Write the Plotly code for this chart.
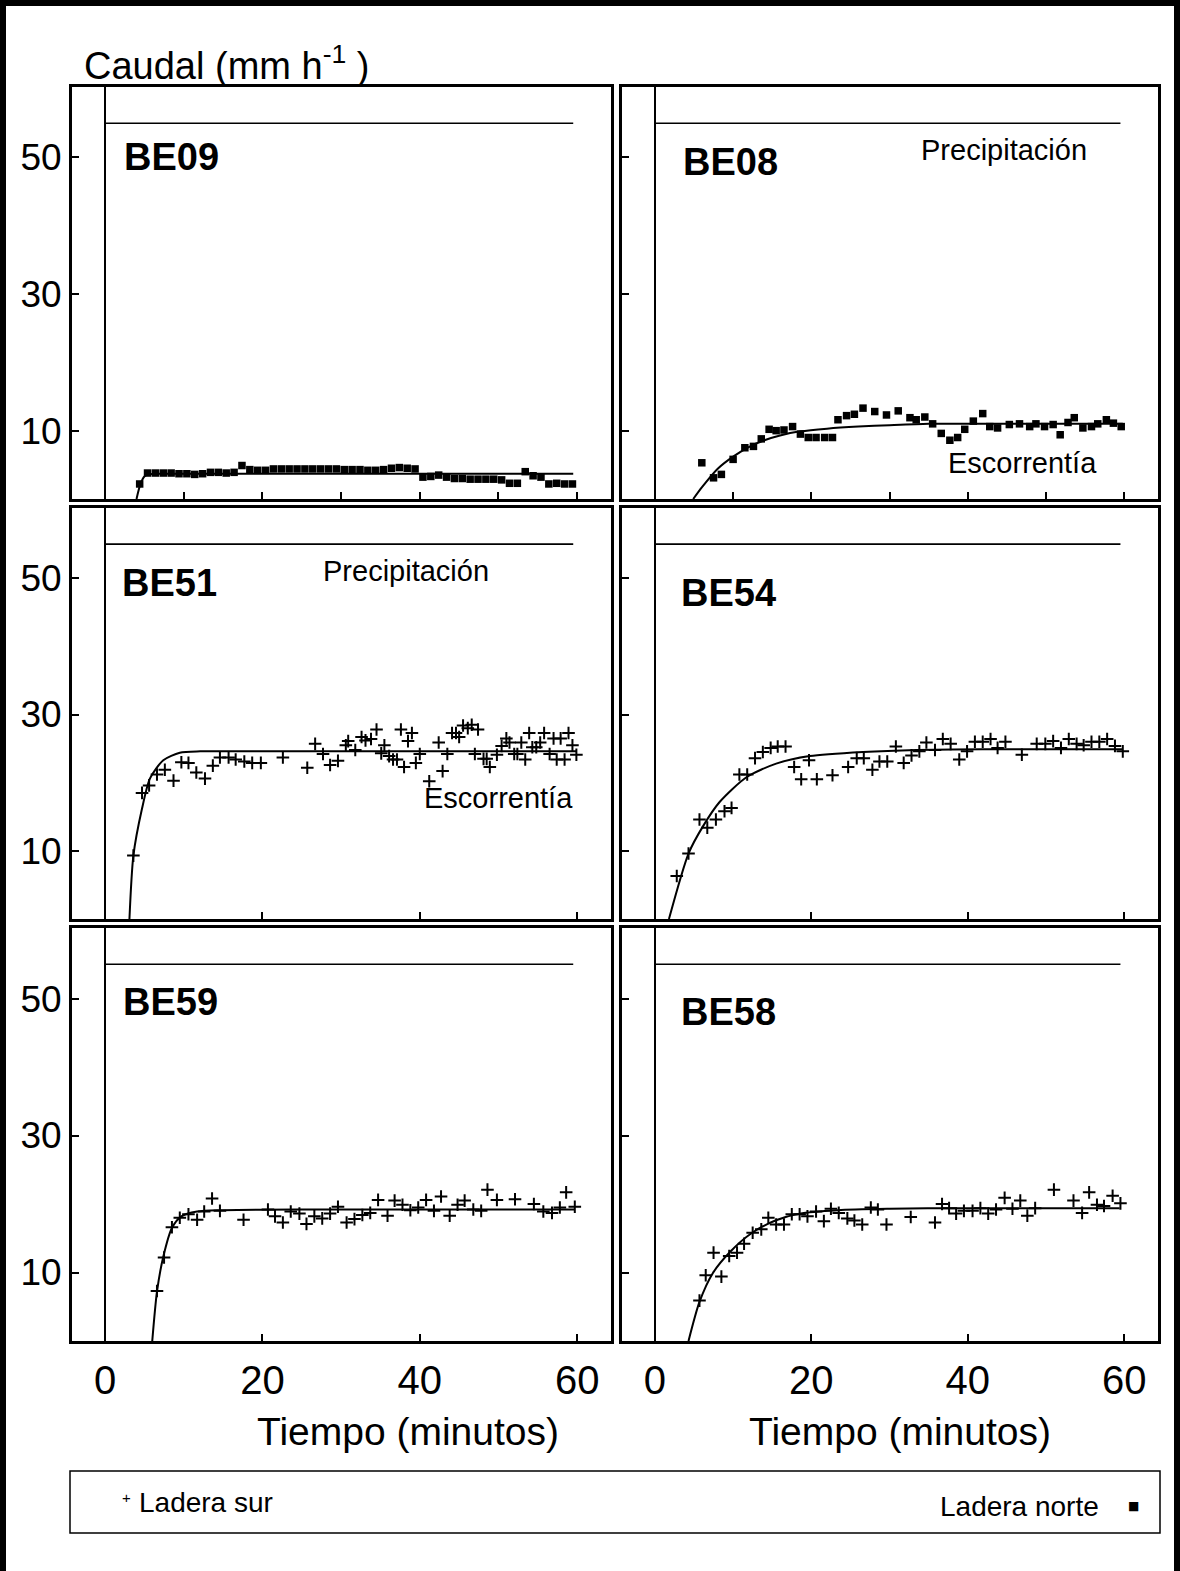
import plotly.graph_objects as go

# ---------------- data ----------------
rain_t = [0, 59.5]
rain_q = [55, 55]

be09_t = [4.4, 5.4, 6.4, 7.4, 8.4, 9.4, 10.4, 11.4, 12.4, 13.4, 14.4, 15.4, 16.4, 17.4, 18.4, 19.4,
          20.4, 21.4, 22.4, 23.4, 24.4, 25.4, 26.4, 27.4, 28.4, 29.4, 30.4, 31.4, 32.4, 33.4, 34.4,
          35.4, 36.4, 37.4, 38.4, 39.4, 40.4, 41.4, 42.4, 43.4, 44.4, 45.4, 46.4, 47.4, 48.4, 49.4,
          50.4, 51.4, 52.4, 53.4, 54.4, 55.4, 56.4, 57.4, 58.4, 59.4]
be09_q = [2.2, 3.8, 3.8, 3.8, 3.8, 3.7, 3.7, 3.6, 3.7, 3.9, 3.9, 3.8, 3.9, 4.9, 4.3, 4.2,
          4.2, 4.4, 4.4, 4.4, 4.4, 4.4, 4.4, 4.4, 4.4, 4.4, 4.3, 4.3, 4.3, 4.2, 4.2,
          4.3, 4.5, 4.6, 4.5, 4.4, 3.2, 3.3, 3.5, 3.2, 3.0, 3.0, 2.9, 2.9, 2.9, 2.9,
          2.8, 2.3, 2.3, 4.0, 3.4, 3.2, 2.2, 2.3, 2.2, 2.2]
be09_fit_t = [4.0, 4.5, 5.0, 5.6, 7.0, 59.5]
be09_fit_q = [0.0, 2.2, 3.3, 3.6, 3.7, 3.7]

be08_t = [6.0, 7.5, 8.5, 10.0, 11.5, 12.6, 13.6, 14.6, 15.5, 16.5, 17.6, 18.6, 19.6, 20.6, 21.7,
          22.7, 23.4, 24.5, 25.5, 26.6, 28.1, 29.6, 31.1, 32.6, 33.4, 34.5, 35.5, 36.6, 37.7, 38.7,
          39.6, 40.7, 41.9, 42.8, 43.8, 45.3, 46.6, 47.9, 48.7, 49.8, 50.9, 51.8, 52.8, 53.6, 54.7,
          55.8, 56.6, 57.7, 58.6, 59.6]
be08_q = [5.3, 3.1, 3.6, 5.8, 7.5, 7.7, 8.8, 10.2, 10.0, 10.1, 10.6, 9.5, 9.0, 9.0, 9.0,
          9.0, 11.6, 12.2, 12.4, 13.3, 12.8, 12.3, 12.9, 11.9, 11.6, 12.0, 11.0, 9.6, 8.6, 9.0,
          10.2, 11.4, 12.5, 10.6, 10.4, 10.9, 11.0, 10.6, 11.0, 10.6, 10.9, 9.4, 11.2, 11.9, 10.4,
          10.6, 11.0, 11.6, 11.1, 10.6]
be08_fit_t = [4.9, 6.0, 8.0, 10.0, 12.0, 14.0, 16.0, 18.6, 22.0, 26.0, 30.0, 35.0, 45.0, 59.8]
be08_fit_q = [0.0, 1.7, 4.4, 6.2, 7.6, 8.6, 9.3, 9.9, 10.3, 10.6, 10.8, 11.0, 11.0, 11.0]

be51_t = [3.6, 4.7, 5.6, 6.6, 7.6, 8.7, 9.7, 10.6, 11.6, 12.7, 13.7, 14.6, 15.7, 16.6, 17.7, 18.7,
          19.8, 22.6, 25.7, 26.7, 27.7, 28.6, 29.6, 30.6, 30.9, 31.8, 32.6, 33.1, 33.8, 34.5, 35.1,
          35.5, 36.1, 36.6, 37.1, 37.6, 38.0, 38.5, 39.0, 39.5, 40.0, 41.2, 42.4, 42.9, 43.5, 44.1,
          44.6, 45.0, 45.5, 46.1, 46.6, 47.0, 47.4, 48.1, 48.5, 48.9, 49.8, 50.4, 51.0, 51.4, 52.0,
          52.4, 52.9, 53.4, 53.9, 54.3, 54.8, 55.3, 55.8, 56.5, 57.0, 57.4, 57.9, 58.4, 58.9, 59.4,
          59.9]
be51_q = [9.3, 18.5, 19.6, 21.2, 21.9, 20.3, 23.0, 22.9, 21.5, 20.6, 22.5, 23.7, 23.7, 23.4, 23.1, 22.9,
          22.9, 23.7, 22.2, 25.7, 24.2, 22.6, 23.2, 25.5, 26.1, 24.8, 26.7, 26.2, 26.4, 27.8, 24.3,
          25.5, 23.9, 23.4, 23.4, 27.8, 22.3, 26.1, 27.3, 22.9, 24.2, 20.2, 25.9, 21.7, 24.2, 27.3,
          27.3, 26.7, 28.4, 28.0, 28.5, 24.2, 27.8, 23.5, 23.5, 22.3, 24.1, 25.4, 26.5, 25.9, 24.2,
          24.2, 25.9, 23.4, 27.3, 25.2, 25.2, 25.9, 27.3, 24.2, 26.5, 23.4, 26.5, 23.4, 27.3, 25.5,
          24.1]
be51_fit_t = [3.1, 3.6, 4.7, 5.7, 7.4, 9.5, 12.1, 20.0, 59.9]
be51_fit_q = [0.0, 9.3, 16.2, 20.6, 23.3, 24.4, 24.6, 24.6, 24.6]

be54_t = [2.8, 4.3, 5.7, 6.7, 7.8, 8.9, 9.8, 10.8, 11.8, 12.8, 13.8, 14.8, 15.7, 16.7, 17.8, 18.7,
          19.7, 20.7, 22.7, 24.7, 25.8, 26.7, 27.8, 28.7, 29.7, 30.8, 31.8, 32.8, 33.8, 34.7, 35.8,
          36.8, 37.8, 38.9, 39.9, 40.9, 41.9, 42.9, 43.8, 44.8, 46.9, 48.8, 49.9, 50.9, 51.9, 52.9,
          53.9, 54.8, 55.8, 56.8, 57.8, 58.8, 59.8]
be54_q = [6.3, 9.6, 14.6, 13.4, 14.6, 15.8, 16.3, 21.2, 21.2, 23.6, 24.5, 25.1, 25.3, 25.3, 22.3, 20.5,
          23.3, 20.5, 21.1, 22.3, 23.6, 23.6, 21.9, 23.1, 23.1, 25.3, 22.9, 24.0, 24.6, 25.9, 24.8,
          26.4, 25.7, 23.4, 24.6, 26.0, 26.0, 26.4, 25.1, 26.0, 24.1, 25.7, 25.7, 26.1, 25.1, 26.4,
          25.7, 25.5, 26.0, 26.0, 26.4, 25.4, 24.6]
be54_fit_t = [1.8, 4.3, 6.2, 8.3, 11.7, 15.5, 19.8, 26.6, 33.4, 41.9, 59.8]
be54_fit_q = [0.0, 9.6, 13.7, 17.2, 20.8, 22.8, 23.9, 24.5, 24.8, 24.9, 24.9]

be59_t = [6.6, 7.5, 8.5, 9.5, 10.6, 11.7, 12.6, 13.6, 14.6, 17.6, 20.7, 21.6, 22.6, 23.6, 24.7, 25.6,
          26.6, 27.6, 28.6, 29.6, 30.7, 31.7, 32.7, 33.7, 34.7, 35.9, 36.8, 37.8, 38.8, 39.8, 40.8,
          41.8, 42.7, 43.8, 44.8, 45.7, 46.8, 47.8, 48.6, 49.8, 52.1, 54.5, 55.7, 56.8, 57.8, 58.6,
          59.7]
be59_q = [7.3, 12.2, 16.6, 18.0, 18.5, 17.7, 18.9, 20.8, 19.0, 17.7, 19.2, 18.2, 17.3, 18.9, 18.6, 17.1,
          18.2, 17.9, 18.6, 19.6, 17.3, 17.8, 18.4, 18.7, 20.6, 18.3, 20.5, 19.9, 19.1, 19.5, 20.6,
          19.0, 21.1, 18.3, 19.9, 20.5, 19.2, 19.0, 22.1, 20.6, 20.7, 20.0, 18.9, 18.7, 19.5, 21.7,
          19.6]
be59_fit_t = [6.0, 6.6, 7.4, 8.5, 9.7, 11.7, 14.6, 25.0, 59.7]
be59_fit_q = [0.0, 7.2, 12.3, 16.5, 18.2, 18.9, 19.1, 19.2, 19.2]

be58_t = [5.7, 6.5, 7.5, 8.5, 9.5, 10.5, 11.4, 12.5, 13.6, 14.5, 15.5, 16.5, 17.5, 18.5, 19.5, 20.6,
          21.6, 22.5, 23.5, 24.6, 25.5, 26.5, 27.6, 28.5, 29.6, 32.7, 35.8, 36.7, 37.6, 38.5, 39.5,
          40.6, 41.6, 42.6, 43.6, 44.7, 45.7, 46.7, 47.6, 48.6, 51.0, 53.5, 54.6, 55.5, 56.5, 57.4,
          58.5, 59.5]
be58_q = [5.9, 9.6, 12.9, 9.4, 12.4, 12.9, 14.2, 15.8, 16.3, 18.0, 17.0, 17.0, 18.5, 18.5, 18.2, 18.9,
          17.5, 19.3, 18.7, 17.9, 17.6, 17.0, 19.5, 19.2, 17.0, 18.1, 17.3, 20.0, 19.4, 18.6, 19.0,
          19.0, 19.4, 18.6, 19.2, 20.9, 19.3, 20.5, 18.3, 19.4, 22.1, 20.5, 18.7, 21.7, 19.9, 19.7,
          21.2, 20.1]
be58_fit_t = [4.3, 5.7, 7.4, 9.6, 12.3, 15.4, 18.5, 23.4, 30.0, 38.8, 59.4]
be58_fit_q = [0.0, 5.7, 9.9, 13.0, 15.7, 17.6, 18.6, 19.1, 19.3, 19.4, 19.4]

panel_names = ["BE09", "BE08", "BE51", "BE54", "BE59", "BE58"]
x_ticks_top = [10, 20, 30, 40, 50, 60]
x_ticks_other = [0, 20, 40, 60]
y_ticks = [10, 30, 50]

# ---------------- figure ----------------
W, H = 1180, 1571
SANS = "Liberation Sans, Arial, Helvetica, sans-serif"

panels = [
    (be09_t, be09_q, be09_fit_t, be09_fit_q, "square"),
    (be08_t, be08_q, be08_fit_t, be08_fit_q, "square"),
    (be51_t, be51_q, be51_fit_t, be51_fit_q, "cross"),
    (be54_t, be54_q, be54_fit_t, be54_fit_q, "cross"),
    (be59_t, be59_q, be59_fit_t, be59_fit_q, "cross"),
    (be58_t, be58_q, be58_fit_t, be58_fit_q, "cross"),
]

col_px = [(72, 611), (622, 1158)]
row_px = [(87, 499), (508, 919), (928, 1341)]

fig = go.Figure()
layout = dict(
    width=W, height=H, margin=dict(l=0, r=0, t=0, b=0),
    paper_bgcolor="white", plot_bgcolor="white", showlegend=False,
    font=dict(family=SANS, color="black"),
)

for i, (t, q, ft, fq, sym) in enumerate(panels):
    n = i + 1
    xa = "x" if n == 1 else f"x{n}"
    ya = "y" if n == 1 else f"y{n}"
    r, c = divmod(i, 2)
    fig.add_trace(go.Scatter(x=rain_t, y=rain_q, mode="lines", xaxis=xa, yaxis=ya,
                             line=dict(color="black", width=1.6), hoverinfo="skip"))
    fig.add_trace(go.Scatter(x=ft, y=fq, mode="lines", xaxis=xa, yaxis=ya,
                             line=dict(color="black", width=2, shape="spline", smoothing=0.7),
                             hoverinfo="skip"))
    if sym == "square":
        mk = dict(symbol="square", size=7.5, color="black", line=dict(width=0))
    else:
        mk = dict(symbol="cross-thin", size=9, color="black", line=dict(width=2, color="black"))
    fig.add_trace(go.Scatter(x=t, y=q, mode="markers", xaxis=xa, yaxis=ya, marker=mk))

    x0, x1 = col_px[c]
    y0, y1 = row_px[r]
    bottom = (r == 2)
    left = (c == 0)
    layout["xaxis" if n == 1 else f"xaxis{n}"] = dict(
        domain=[x0 / W, x1 / W], range=[-4.2, 64.3], anchor=ya,
        showline=True, mirror=True, linecolor="black", linewidth=3,
        showgrid=False, zeroline=True, zerolinecolor="black", zerolinewidth=1.6,
        ticks="inside", ticklen=7, tickwidth=1.5, tickcolor="black",
        tickvals=(x_ticks_top if r == 0 else x_ticks_other),
        showticklabels=bottom, ticklabelstandoff=2,
        tickfont=dict(family=SANS, size=40, color="black"),
    )
    layout["yaxis" if n == 1 else f"yaxis{n}"] = dict(
        domain=[1 - y1 / H, 1 - y0 / H], range=[0, 60.3], anchor=xa,
        showline=True, mirror=True, linecolor="black", linewidth=3,
        showgrid=False, zeroline=False,
        ticks="inside", ticklen=7, tickwidth=1.5, tickcolor="black",
        tickvals=y_ticks, showticklabels=left, ticklabelstandoff=0,
        tickfont=dict(family=SANS, size=37, color="black"),
    )

fig.update_layout(**layout)

def P(px, py):
    return px / W, 1 - py / H

ann = []
label_pos = [(122, 157), (681, 162), (120, 583), (679, 593), (121, 1002), (679, 1012)]
for name, (px, py) in zip(panel_names, label_pos):
    x, y = P(px, py)
    ann.append(dict(x=x, y=y, xref="paper", yref="paper", text=f"<b>{name}</b>", showarrow=False,
                    xanchor="left", yanchor="middle", font=dict(family=SANS, size=38, color="black")))
for txt, px, py in [("Precipitación", 1004, 150), ("Escorrentía", 1022, 463),
                    ("Precipitación", 406, 571), ("Escorrentía", 498, 798)]:
    x, y = P(px, py)
    ann.append(dict(x=x, y=y, xref="paper", yref="paper", text=txt, showarrow=False,
                    xanchor="center", yanchor="middle", font=dict(family=SANS, size=29, color="black")))
x, y = P(82, 63)
ann.append(dict(x=x, y=y, xref="paper", yref="paper", text="Caudal (mm h<sup>-1</sup> )", showarrow=False,
                xanchor="left", yanchor="middle", font=dict(family=SANS, size=38, color="black")))
for px in (408, 900):
    x, y = P(px, 1431)
    ann.append(dict(x=x, y=y, xref="paper", yref="paper", text="Tiempo (minutos)", showarrow=False,
                    xanchor="center", yanchor="middle", font=dict(family=SANS, size=39, color="black")))
# legend
x, y = P(120, 1497)
ann.append(dict(x=x, y=y, xref="paper", yref="paper", text="+", showarrow=False,
                xanchor="left", yanchor="middle", font=dict(family=SANS, size=15, color="black")))
x, y = P(137, 1502)
ann.append(dict(x=x, y=y, xref="paper", yref="paper", text="Ladera sur", showarrow=False,
                xanchor="left", yanchor="middle", font=dict(family=SANS, size=28, color="black")))
x, y = P(1101, 1506)
ann.append(dict(x=x, y=y, xref="paper", yref="paper", text="Ladera norte", showarrow=False,
                xanchor="right", yanchor="middle", font=dict(family=SANS, size=28, color="black")))
x, y = P(1133, 1506)
ann.append(dict(x=x, y=y, xref="paper", yref="paper", text="■", showarrow=False,
                xanchor="center", yanchor="middle", font=dict(family="DejaVu Sans", size=12, color="black")))

shapes = [
    dict(type="rect", xref="paper", yref="paper", x0=70 / W, x1=1160 / W,
         y0=1 - 1533 / H, y1=1 - 1471 / H, line=dict(color="black", width=1.5)),
    dict(type="rect", xref="paper", yref="paper", x0=3 / W, x1=1177 / W,
         y0=-0.05, y1=1 - 3 / H, line=dict(color="black", width=6)),
]
fig.update_layout(annotations=ann, shapes=shapes)

fig.write_html("out.html", config={"displayModeBar": False},
               post_script="document.body.style.margin='0px';")
